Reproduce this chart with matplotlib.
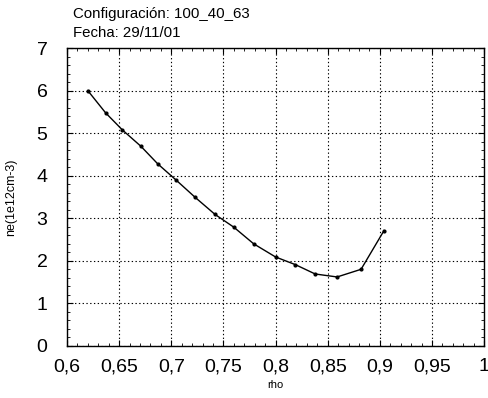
import matplotlib
matplotlib.use("Agg")
import matplotlib.pyplot as plt
from matplotlib.ticker import MultipleLocator, FuncFormatter

# perfil de densidad
rho = [0.620, 0.637, 0.653, 0.671, 0.687, 0.705, 0.723, 0.742,
       0.760, 0.779, 0.800, 0.819, 0.838, 0.859, 0.882, 0.904]
ne = [6.00, 5.48, 5.08, 4.69, 4.28, 3.89, 3.49, 3.09,
      2.79, 2.40, 2.09, 1.91, 1.69, 1.62, 1.80, 2.71]

config = "Configuración: 100_40_63"
fecha = "Fecha: 29/11/01"

plt.rcParams["font.family"] = ["Liberation Sans", "DejaVu Sans"]

fig = plt.figure(figsize=(4.89, 3.98), dpi=100)
ax = fig.add_axes([0.137, 0.131, 0.853, 0.748])

ax.plot(rho, ne, color="black", linewidth=1.0, marker="o", markersize=2.0)

ax.set_xlim(0.6, 1.0)
ax.set_ylim(0, 7)
ax.xaxis.set_major_locator(MultipleLocator(0.05))
ax.xaxis.set_minor_locator(MultipleLocator(0.01))
ax.yaxis.set_major_locator(MultipleLocator(1))
ax.yaxis.set_minor_locator(MultipleLocator(0.2))

# decimales con coma
def coma(v, pos):
    s = f"{v:.2f}".rstrip("0").rstrip(".")
    return s.replace(".", ",")

ax.xaxis.set_major_formatter(FuncFormatter(coma))
ax.yaxis.set_major_formatter(FuncFormatter(coma))

ax.tick_params(which="both", direction="in", top=True, right=True)
ax.tick_params(which="major", length=4, labelsize=14)
ax.tick_params(axis="x", which="major", pad=9)
ax.tick_params(axis="y", which="major", pad=14)
ax.tick_params(which="minor", length=2)
ax.grid(True, which="major", linestyle=(0, (1.2, 2.2)), color="black", linewidth=0.8)

for s in ax.spines.values():
    s.set_linewidth(1.0)

ax.set_xlabel("rho", fontsize=8, labelpad=3)
ax.set_ylabel("ne(1e12cm-3)", fontsize=9, labelpad=14)

fig.text(0.149, 0.965, config, fontsize=10.8, va="center", ha="left")
fig.text(0.149, 0.918, fecha, fontsize=10.8, va="center", ha="left")

fig.savefig("out.png", dpi=100)
